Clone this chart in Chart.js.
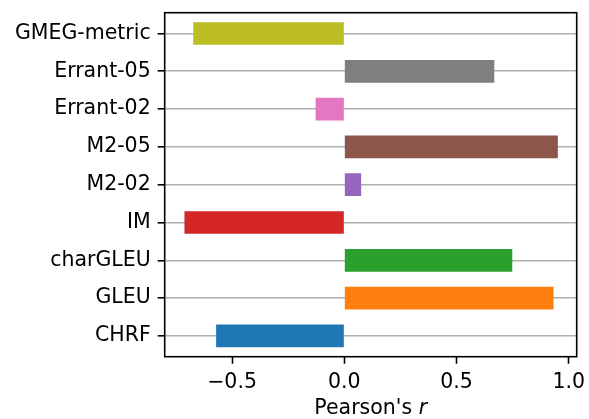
<!DOCTYPE html>
<html>
<head>
<meta charset="utf-8">
<script src="https://cdn.jsdelivr.net/npm/chart.js@4"></script>
<style>
  body { margin: 0; background: #fff; }
  canvas { display: block; }
</style>
</head>
<body>
<canvas id="myChart" width="589" height="419"></canvas>
<script>
// Data (bottom to top)
var metrics = ['CHRF', 'GLEU', 'charGLEU', 'IM', 'M2-02', 'M2-05', 'Errant-02', 'Errant-05', 'GMEG-metric'];
var pearsonR = [-0.571, 0.932, 0.748, -0.712, 0.075, 0.951, -0.128, 0.668, -0.673];
var xTicks = [-0.5, 0.0, 0.5, 1.0];
var barColors = ['#1f77b4', '#ff7f0e', '#2ca02c', '#d62728', '#9467bd', '#8c564b', '#e377c2', '#7f7f7f', '#bcbd22'];

var FONT = "'DejaVu Sans', sans-serif";

// box around plot area + x label with italic r
var framePlugin = {
  id: 'frame',
  afterDraw: function(chart) {
    var a = chart.chartArea;
    var c = chart.ctx;
    c.save();
    c.strokeStyle = '#000';
    c.lineWidth = 1.6;
    c.strokeRect(a.left, a.top, a.right - a.left, a.bottom - a.top);

    c.fillStyle = '#000';
    c.textBaseline = 'alphabetic';
    var t1 = "Pearson's ", t2 = 'r';
    c.font = '20.5px ' + FONT;
    var w1 = c.measureText(t1).width;
    c.font = 'italic 20.5px ' + FONT;
    var w2 = c.measureText(t2).width;
    var x0 = (a.left + a.right) / 2 - (w1 + w2) / 2;
    c.font = '20.5px ' + FONT;
    c.fillText(t1, x0, 414);
    c.font = 'italic 20.5px ' + FONT;
    c.fillText(t2, x0 + w1, 414);
    c.restore();
  }
};

var ctx = document.getElementById('myChart').getContext('2d');
var myChart = new Chart(ctx, {
  type: 'bar',
  data: {
    datasets: [{
      label: "Pearson's r",
      data: pearsonR.map(function(v, i) { return { x: v, y: i }; }),
      backgroundColor: barColors,
      borderWidth: 0,
      categoryPercentage: 1.0,
      barPercentage: 0.6
    }]
  },
  options: {
    indexAxis: 'y',
    responsive: false,
    animation: false,
    devicePixelRatio: 1,
    layout: { padding: { top: 12.7, right: 12.3, left: 0, bottom: 0 } },
    plugins: {
      legend: { display: false },
      tooltip: { enabled: false }
    },
    scales: {
      x: {
        type: 'linear',
        min: -0.8,
        max: 1.035,
        afterBuildTicks: function(axis) {
          axis.ticks = xTicks.map(function(v) { return { value: v }; });
        },
        afterFit: function(scale) {
          scale.height = 62.3;
          scale.paddingLeft = 0;
          scale.paddingRight = 0;
        },
        border: { display: false },
        grid: {
          drawOnChartArea: false,
          drawTicks: true,
          tickLength: 7,
          tickColor: '#000',
          tickWidth: 1.6
        },
        ticks: {
          color: '#000',
          padding: 7,
          maxRotation: 0,
          font: { family: FONT, size: 20.5 },
          callback: function(v) {
            return v < 0 ? '\u2212' + Math.abs(v).toFixed(1) : v.toFixed(1);
          }
        }
      },
      y: {
        type: 'linear',
        offset: false,
        min: -0.55,
        max: 8.55,
        afterBuildTicks: function(axis) {
          axis.ticks = metrics.map(function(m, i) { return { value: i }; });
        },
        afterFit: function(scale) {
          scale.width = 164.7;
          scale.paddingTop = 0;
          scale.paddingBottom = 0;
        },
        border: { display: false },
        grid: {
          offset: false,
          color: '#b0b0b0',
          lineWidth: 1.6,
          tickLength: 7,
          tickColor: '#000',
          tickWidth: 1.6
        },
        ticks: {
          color: '#000',
          padding: 7,
          font: { family: FONT, size: 20.5 },
          callback: function(v) { return metrics[v]; }
        }
      }
    }
  },
  plugins: [framePlugin]
});
</script>
</body>
</html>
